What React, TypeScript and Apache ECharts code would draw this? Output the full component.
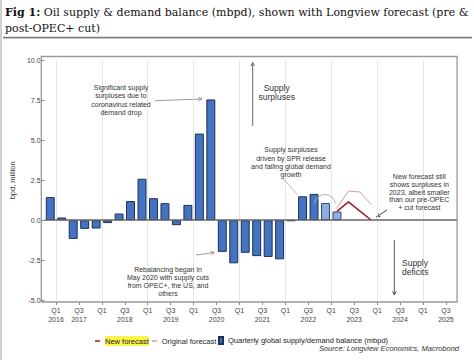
import React, { useEffect, useRef } from 'react';
import * as echarts from 'echarts';

// Quarterly categories (bar centres)
const quarters = [
  'Q4 2016',
  'Q1 2017', 'Q2 2017', 'Q3 2017', 'Q4 2017',
  'Q1 2018', 'Q2 2018', 'Q3 2018', 'Q4 2018',
  'Q1 2019', 'Q2 2019', 'Q3 2019', 'Q4 2019',
  'Q1 2020', 'Q2 2020', 'Q3 2020', 'Q4 2020',
  'Q1 2021', 'Q2 2021', 'Q3 2021', 'Q4 2021',
  'Q1 2022', 'Q2 2022', 'Q3 2022', 'Q4 2022',
  'Q1 2023', 'Q2 2023', 'Q3 2023', 'Q4 2023',
  'Q1 2024', 'Q2 2024', 'Q3 2024', 'Q4 2024',
  'Q1 2025', 'Q2 2025', 'Q3 2025',
];

// Quarterly global supply/demand balance (mbpd), from Q4 2016
const balance = [
  1.45, 0.17, -1.17, -0.54, -0.52, -0.18, 0.42, 1.2, 2.6, 1.38, 1.07, -0.31,
  0.96, 5.43, 7.57, -1.98, -2.7, -2.04, -2.25, -2.3, -2.45, -0.05, 1.5, 1.65,
  1.08, 0.55,
];
const estimatedQuarters = ['Q4 2022', 'Q1 2023'];

const forecastQuarters = ['Q1 2023', 'Q2 2023', 'Q3 2023', 'Q4 2023'];
const newForecast = [0.56, 1.15, 0.57, 0.0];
const originalForecast = [0.79, 1.83, 1.77, 0.98];

// Tick labels placed at quarter starts (every second quarter boundary)
const xTickLabels = [
  'Q1\n2016', 'Q3\n2017', 'Q1', 'Q3\n2018', 'Q1', 'Q3\n2019', 'Q1', 'Q3\n2020',
  'Q1', 'Q3\n2021', 'Q1', 'Q3\n2022', 'Q1', 'Q3\n2023', 'Q1', 'Q3\n2024',
  'Q1', 'Q3\n2025',
];

const yMin = -5;
const yMax = 10;
const yStep = 2.5;

const SANS = 'Liberation Sans, Arial, sans-serif';

function arrow(x1: number, y1: number, x2: number, y2: number, color: string, head = 4, width = 1) {
  const a = Math.atan2(y2 - y1, x2 - x1);
  const p1 = [x2 - head * Math.cos(a - 0.45), y2 - head * Math.sin(a - 0.45)];
  const p2 = [x2 - head * Math.cos(a + 0.45), y2 - head * Math.sin(a + 0.45)];
  return {
    type: 'group',
    z: 50,
    children: [
      { type: 'line', shape: { x1, y1, x2, y2 }, style: { stroke: color, lineWidth: width } },
      { type: 'polyline', shape: { points: [p1, [x2, y2], p2] }, style: { stroke: color, lineWidth: width, fill: null } },
    ],
  };
}

function note(x: number, y: number, text: string, size = 7, lh = 8.3, align = 'center', color = '#333') {
  return {
    type: 'text',
    x,
    y,
    z: 50,
    style: { text, fill: color, fontSize: size, fontFamily: SANS, lineHeight: lh, align, verticalAlign: 'top' },
  };
}

export default function App() {
  const ref = useRef<HTMLDivElement>(null);

  useEffect(() => {
    const chart = echarts.init(ref.current!, null, { renderer: 'svg' });

    const boundaryData = Array.from({ length: quarters.length + 1 }, (_, i) => String(i));

    const barData = balance.map((v, i) => {
      const est = estimatedQuarters.includes(quarters[i]);
      return {
        value: v,
        itemStyle: est
          ? { color: '#8eaedf', borderColor: '#2d4a7a', borderWidth: 1 }
          : { color: '#4473c2', borderColor: '#1d2f52', borderWidth: 1 },
      };
    });

    const toSeries = (vals: number[]) =>
      quarters.map((q) => {
        const k = forecastQuarters.indexOf(q);
        return k >= 0 ? vals[k] : null;
      });

    const option = {
      animation: false,
      backgroundColor: '#fff',
      textStyle: { fontFamily: SANS },
      grid: { left: 41.6, right: 16.6, top: 60.7, bottom: 60 },
      xAxis: [
        {
          type: 'category',
          data: quarters,
          boundaryGap: true,
          show: false,
        },
        {
          type: 'category',
          data: boundaryData,
          boundaryGap: false,
          position: 'bottom',
          offset: 2,
          axisLine: { show: false },
          axisTick: {
            show: true,
            length: 3,
            interval: (i: number) => i % 2 === 1,
            lineStyle: { color: '#888' },
          },
          axisLabel: {
            interval: 0,
            margin: 4,
            fontSize: 7,
            lineHeight: 9,
            color: '#444',
            fontFamily: SANS,
            formatter: (_v: string, i: number) => (i % 2 === 1 ? xTickLabels[(i - 1) / 2] : ''),
          },
          splitLine: {
            show: true,
            interval: (i: number) => i % 4 === 1,
            lineStyle: { color: '#e6e6e6', width: 1 },
          },
        },
      ],
      yAxis: {
        type: 'value',
        min: yMin,
        max: yMax,
        interval: yStep,
        name: 'bpd, million',
        nameLocation: 'middle',
        nameGap: 23,
        nameRotate: 90,
        nameTextStyle: { fontSize: 7.5, color: '#333', fontFamily: SANS },
        axisLine: { show: false },
        axisTick: { show: true, length: 3, lineStyle: { color: '#888' } },
        axisLabel: {
          fontSize: 7,
          color: '#444',
          margin: 4,
          fontFamily: SANS,
          formatter: (v: number) => v.toFixed(1),
        },
        splitLine: { show: false },
      },
      legend: [
        {
          left: 90,
          top: 331,
          itemWidth: 5,
          itemHeight: 1.5,
          itemGap: 3,
          icon: 'rect',
          textStyle: { fontSize: 7.5, color: '#222', fontFamily: SANS },
          data: [
            { name: 'New forecast', textStyle: { backgroundColor: '#fbf44a', padding: [1, 0] } },
            { name: 'Original forecast' },
          ],
        },
        {
          left: 213,
          top: 331,
          itemWidth: 4,
          itemHeight: 7,
          icon: 'rect',
          textStyle: { fontSize: 7.5, color: '#222', fontFamily: SANS },
          data: ['Quarterly global supply/demand balance (mbpd)'],
        },
      ],
      series: [
        {
          name: 'Quarterly global supply/demand balance (mbpd)',
          type: 'bar',
          xAxisIndex: 0,
          barWidth: '78%',
          data: barData,
          itemStyle: { color: '#4473c2', borderColor: '#1d2f52', borderWidth: 1 },
          markLine: {
            silent: true,
            symbol: 'none',
            label: { show: false },
            lineStyle: { color: '#666', width: 1.5, type: 'solid' },
            data: [{ yAxis: 0 }],
          },
        },
        {
          name: 'New forecast',
          type: 'line',
          xAxisIndex: 0,
          data: toSeries(newForecast),
          showSymbol: false,
          connectNulls: false,
          lineStyle: { color: '#9e1c22', width: 1.5 },
          itemStyle: { color: '#9e1c22' },
        },
        {
          name: 'Original forecast',
          type: 'line',
          xAxisIndex: 0,
          data: toSeries(originalForecast),
          showSymbol: false,
          lineStyle: { color: '#e39a9a', width: 1 },
          itemStyle: { color: '#e39a9a' },
        },
      ],
      graphic: [
        // left edge strip
        { type: 'rect', shape: { x: 0, y: 0, width: 2, height: 360 }, style: { fill: '#d0d0d0' }, silent: true },
        // title
        {
          type: 'text',
          x: 5,
          y: 12,
          style: {
            text: '{b|Fig 1:} Oil supply & demand balance (mbpd), shown with Longview forecast (pre &',
            fontSize: 11,
            fontFamily: 'DejaVu Serif, serif',
            fill: '#111',
            verticalAlign: 'middle',
            rich: { b: { fontWeight: 'bold', fontSize: 11, fontFamily: 'DejaVu Serif, serif', fill: '#111' } },
          },
        },
        {
          type: 'text',
          x: 5,
          y: 28,
          style: { text: 'post-OPEC+ cut)', fontSize: 11, fontFamily: 'DejaVu Serif, serif', fill: '#111', verticalAlign: 'middle' },
        },
        { type: 'rect', shape: { x: 3, y: 36.8, width: 469, height: 1.8 }, style: { fill: '#808080' } },
        // plot frame
        {
          type: 'rect',
          shape: { x: 41.3, y: 56.5, width: 415.8, height: 245.5 },
          style: { fill: null, stroke: '#999', lineWidth: 1.3 },
          z: 10,
        },
        // annotations
        note(121, 83.5, 'Significant supply\nsurpluses due to\ncoronavirus related\ndemand drop'),
        arrow(155, 100.7, 202, 99, '#9a9a9a'),
        arrow(252.7, 126, 252.7, 62.5, '#666'),
        note(276.7, 83, 'Supply\nsurpluses', 8.5, 9.3),
        note(291, 145.8, 'Supply surpluses\ndriven by SPR release\nand falling global demand\ngrowth'),
        { type: 'line', z: 50, shape: { x1: 283, y1: 178.5, x2: 297, y2: 194 }, style: { stroke: '#aaa', lineWidth: 0.8 } },
        {
          type: 'arc',
          z: 50,
          shape: { cx: 325, cy: 205, r: 10.5, startAngle: Math.PI * 1.05, endAngle: Math.PI * 1.95, clockwise: true },
          style: { stroke: '#b0b0b0', lineWidth: 1, fill: null },
        },
        note(419.3, 172.5, 'New forecast still\nshows surpluses in\n2023, albeit smaller\nthan our pre-OPEC\n+ cut forecast', 7, 7.8),
        arrow(387, 210, 376.5, 216.8, '#444'),
        note(168, 265, 'Rebalancing began in\nMay 2020 with supply cuts\nfrom OPEC+, the US, and\nothers', 7, 8.1),
        arrow(196, 255, 214.5, 252.5, '#9a9a9a'),
        arrow(394.3, 240, 394.3, 295, '#555'),
        note(402, 258, 'Supply\ndeficits', 8.5, 9.3, 'left'),
        // source
        {
          type: 'text',
          x: 459,
          y: 348,
          style: {
            text: 'Source: Longview Economics, Macrobond',
            fontSize: 7.5,
            fontStyle: 'italic',
            fontFamily: SANS,
            fill: '#333',
            align: 'right',
            verticalAlign: 'middle',
          },
        },
      ],
    };

    chart.setOption(option as any);
    return () => chart.dispose();
  }, []);

  return (
    <div
      ref={ref}
      style={{ position: 'fixed', left: 0, top: 0, width: 474, height: 360, background: '#fff' }}
    />
  );
}
